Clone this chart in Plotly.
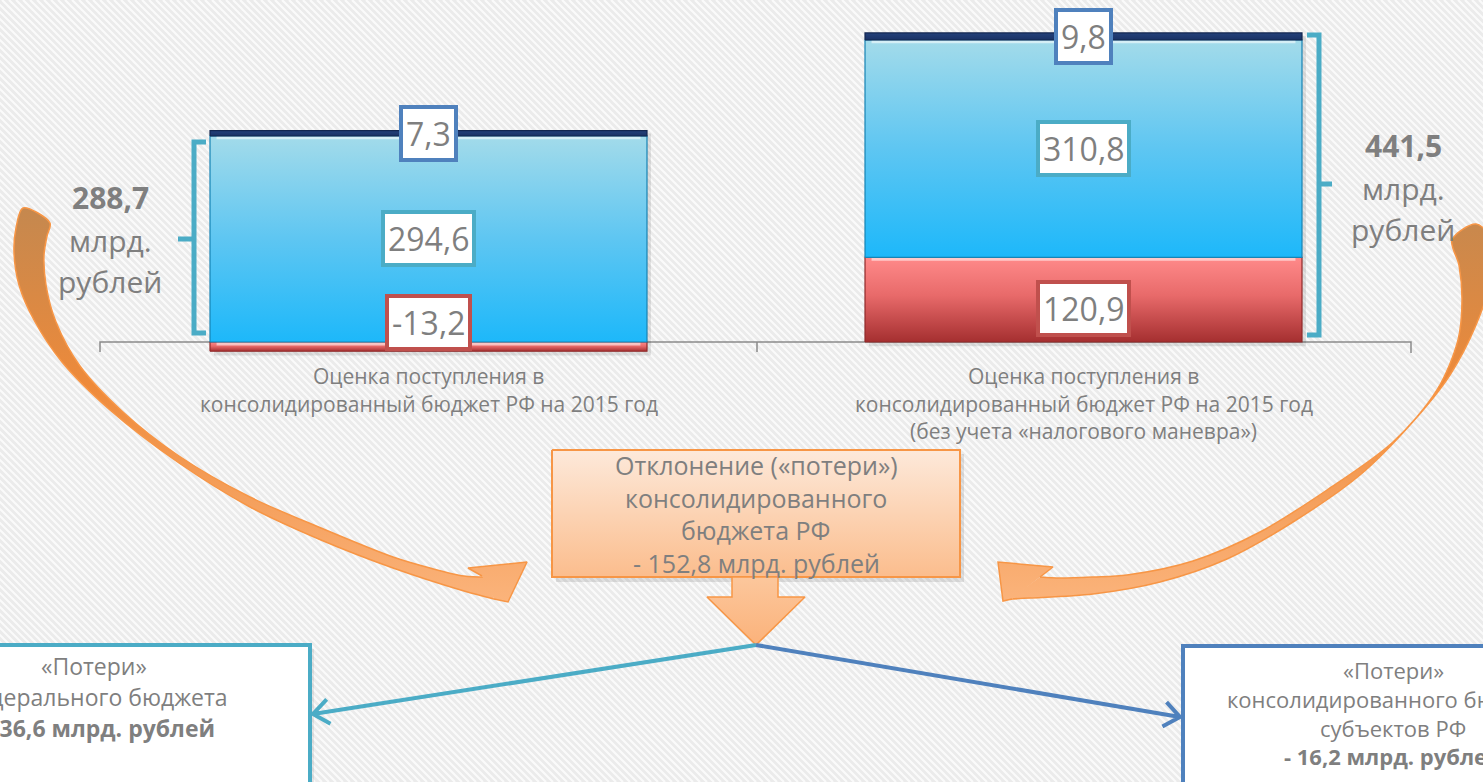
import math
import plotly.graph_objects as go

# ---------------- data ----------------
CATEGORY_LINES = [
    ["Оценка поступления в", "консолидированный бюджет РФ на 2015 год"],
    ["Оценка поступления в", "консолидированный бюджет РФ на 2015 год",
     "(без учета «налогового маневра»)"],
]
SERIES_RED = [-13.2, 120.9]
SERIES_BLUE = [294.6, 310.8]
SERIES_NAVY = [7.3, 9.8]
LOSS_TOTAL_LINES = ["Отклонение («потери»)", "консолидированного", "бюджета РФ"]
LOSS_FEDERAL_LINES = ["«Потери»", "федерального бюджета"]
LOSS_REGIONAL_LINES = ["«Потери»", "консолидированного бюджета", "субъектов РФ"]
LOSS_FEDERAL = 136.6
LOSS_REGIONAL = 16.2
UNIT = "млрд. рублей"

W, H = 1483, 782
ZERO_PX = 342.0
PX_PER_UNIT = 0.7
CAT_PX = [428.5, 1083.5]
BAR_PX = 437.0

GRAY = "#7f7f7f"
FONT = "Open Sans"


def fmt(v):
    return f"{v:.1f}".replace(".", ",")


step = CAT_PX[1] - CAT_PX[0]
xr = [(0 - CAT_PX[0]) / step, (W - CAT_PX[0]) / step]
yr = [(ZERO_PX - H) / PX_PER_UNIT, ZERO_PX / PX_PER_UNIT]
BW = BAR_PX / step

fig = go.Figure()
series = [
    ("red", SERIES_RED, "#e46c6c", [[0, "#a52f30"], [0.55, "#e86a6a"], [1, "#ff8a8a"]], "#8f2a2a"),
    ("blue", SERIES_BLUE, "#5cc8f2", [[0, "#1db8fa"], [0.5, "#5ec6f2"], [1, "#a3dbea"]], "#1784b5"),
    ("navy", SERIES_NAVY, "#1f3a6e", [[0, "#1a3266"], [1, "#24417a"]], "#132650"),
]
xs = list(range(len(CATEGORY_LINES)))
for name, vals, col, _, edge in series:
    fig.add_trace(go.Bar(x=xs, y=vals, width=BW, name=name, marker=dict(color=col, line=dict(width=0)),
                         hoverinfo="skip", xaxis="x", yaxis="y", showlegend=False))

# segment geometry from the data (relative stacking)
segs = []
for i in xs:
    pos, neg = 0.0, 0.0
    for name, vals, col, cs, edge in series:
        v = vals[i]
        if v >= 0:
            b = pos
            pos += v
        else:
            b = neg
            neg += v
        segs.append((i, name, min(b, b + v), max(b, b + v), v, cs, edge))

# shadows behind bars
for i in xs:
    lo = min(s[2] for s in segs if s[0] == i)
    hi = max(s[3] for s in segs if s[0] == i)
    fig.add_shape(type="rect", xref="x", yref="y", x0=i - BW / 2 + 0.006, x1=i + BW / 2 + 0.006,
                  y0=lo - 6, y1=hi - 4, fillcolor="rgba(0,0,0,0.10)", line=dict(width=0), layer="below")

# gradient overlay on bar segments
for i, name, y0, y1, v, cs, edge in segs:
    xa, xb = i - BW / 2, i + BW / 2
    fig.add_trace(go.Scatter(x=[xa, xb, xb, xa, xa], y=[y0, y0, y1, y1, y0], mode="lines", fill="toself",
                             fillgradient=dict(type="vertical", colorscale=cs, start=y0, stop=y1),
                             line=dict(color=edge, width=1.2), hoverinfo="skip", showlegend=False,
                             xaxis="x", yaxis="y"))
    if name != "navy":
        hl = 4 / PX_PER_UNIT
        fig.add_trace(go.Scatter(x=[xa + 0.01, xb - 0.01], y=[y1 - hl / 2, y1 - hl / 2], mode="lines",
                                 line=dict(color="rgba(255,255,255,0.55)", width=3), hoverinfo="skip",
                                 showlegend=False, xaxis="x", yaxis="y"))


# ------------- helpers for pixel-positioned decoration -------------
def px(x):
    return x / W


def py(y):
    return 1 - y / H


def ppath(pts, close=False):
    s = "M " + " L ".join(f"{px(a):.5f},{py(b):.5f}" for a, b in pts)
    return s + (" Z" if close else "")


# background stripes
stripes = []
x = -H
while x < W:
    stripes.append(f"M {px(x):.5f},1 L {px(x + H):.5f},0")
    x += 7
fig.add_shape(type="path", xref="paper", yref="paper", path=" ".join(stripes),
              line=dict(color="rgba(255,255,255,0.75)", width=2.2), layer="below")

# base line with ticks
fig.add_shape(type="path", xref="paper", yref="paper", layer="below",
              path=ppath([(100, 352), (100, 342), (1411, 342), (1411, 353)]) + " " + ppath([(757, 342), (757, 352)]),
              line=dict(color="#8a8a8a", width=1.5))

# brackets
teal = "#4bacc6"
fig.add_shape(type="path", xref="paper", yref="paper",
              path=ppath([(206, 142), (194, 142), (194, 333), (206, 333)]) + " " + ppath([(194, 239), (178, 239)]),
              line=dict(color=teal, width=5))
fig.add_shape(type="path", xref="paper", yref="paper",
              path=ppath([(1307, 35), (1319, 35), (1319, 335), (1307, 335)]) + " " + ppath([(1319, 184), (1332, 184)]),
              line=dict(color=teal, width=5))

# bottom boxes (with soft shadow)
fig.add_shape(type="rect", xref="paper", yref="paper", x0=px(-20), x1=px(314), y0=py(649), y1=py(800),
              fillcolor="rgba(0,0,0,0.08)", line=dict(width=0))
fig.add_shape(type="rect", xref="paper", yref="paper", x0=px(-20), x1=px(310), y0=py(645), y1=py(800),
              fillcolor="white", line=dict(color=teal, width=4))
fig.add_shape(type="rect", xref="paper", yref="paper", x0=px(1187), x1=px(1510), y0=py(650), y1=py(800),
              fillcolor="rgba(0,0,0,0.08)", line=dict(width=0))
fig.add_shape(type="rect", xref="paper", yref="paper", x0=px(1183), x1=px(1510), y0=py(646), y1=py(800),
              fillcolor="white", line=dict(color="#4f81bd", width=4))


def chevron_path(p_from, p_to, arm=20, ang=38):
    dx, dy = p_to[0] - p_from[0], p_to[1] - p_from[1]
    L = math.hypot(dx, dy)
    ux, uy = dx / L, dy / L
    pts = []
    for s in (1, -1):
        a = math.radians(ang) * s
        rx = -(ux * math.cos(a) - uy * math.sin(a))
        ry = -(ux * math.sin(a) + uy * math.cos(a))
        pts.append((p_to[0] + rx * arm, p_to[1] + ry * arm))
    return ppath([p_from, p_to]) + " " + ppath([pts[0], p_to, pts[1]])


tip = (756, 645)
fig.add_shape(type="path", xref="paper", yref="paper", path=chevron_path(tip, (313, 714)),
              line=dict(color=teal, width=4))
fig.add_shape(type="path", xref="paper", yref="paper", path=chevron_path(tip, (1180, 717)),
              line=dict(color="#4f81bd", width=4))


# ---- pixel overlay axes for gradient decorations ----
def poly(pts, cs, line_col, lw=1.5, close=True, spline=False, span=None):
    xs_ = [p[0] for p in pts] + ([pts[0][0]] if close else [])
    ys_ = [p[1] for p in pts] + ([pts[0][1]] if close else [])
    top, bot = span if span else (min(ys_), max(ys_))
    fig.add_trace(go.Scatter(x=xs_, y=ys_, mode="lines", fill="toself",
                             fillgradient=dict(type="vertical", colorscale=cs, start=top, stop=bot),
                             line=dict(color=line_col, width=lw, shape="spline" if spline else "linear",
                                       smoothing=0.9),
                             hoverinfo="skip", showlegend=False, xaxis="x2", yaxis="y2"))


orange_cs = [[0, "#c4884f"], [0.45, "#ee8a3a"], [1, "#fbb47c"]]
ARROW_SPAN = (205, 605)
left_band = [
    (486, 577), (464, 576), (430, 568), (393, 557), (321, 528), (250, 497), (179, 456), (123, 412),
    (80, 366), (56, 322), (46, 285), (44, 255), (47, 236), (50, 223),
    (23, 208), (16, 228), (14, 252), (19, 285), (34, 320), (62, 362), (110, 410), (179, 463),
    (250, 507), (321, 540), (393, 568), (464, 591), (494, 599),
]
left_head = [(482, 576), (468, 568), (527, 562), (508, 602), (494, 599)]
right_band = [
    (1040, 577), (1060, 578), (1093, 577), (1127, 575), (1193, 561), (1260, 532), (1327, 490),
    (1393, 442), (1437, 390), (1458, 340), (1462, 300), (1459, 265), (1452, 240),
    (1476, 224), (1492, 240), (1490, 282), (1476, 325), (1450, 375), (1410, 425), (1360, 475),
    (1293, 522), (1227, 559), (1160, 582), (1093, 594), (1030, 598), (1010, 599),
]
right_head = [(1040, 577), (1053, 567), (998, 562), (1003, 601), (1012, 599)]
poly(left_band, orange_cs, "#f79646", 1.5, close=False, spline=True, span=ARROW_SPAN)
poly(left_head, orange_cs, "#f79646", 1.5, close=False, span=ARROW_SPAN)
poly(right_band, orange_cs, "#f79646", 1.5, close=False, spline=True, span=ARROW_SPAN)
poly(right_head, orange_cs, "#f79646", 1.5, close=False, span=ARROW_SPAN)

# central box (shadow) and down arrow
fig.add_shape(type="rect", xref="paper", yref="paper", x0=px(556), x1=px(964), y0=py(454), y1=py(582),
              fillcolor="rgba(0,0,0,0.10)", line=dict(width=0), layer="below")
poly([(552, 450), (960, 450), (960, 577), (552, 577)], [[0, "#fde9da"], [1, "#fbbd8d"]], "#f79646", 2)
poly([(732, 577), (778, 577), (778, 597), (805, 597), (756, 645), (707, 597), (732, 597)],
     [[0, "#fcc79c"], [1, "#fbb27a"]], "#f79646", 1.5)

# ---------------- annotations ----------------
ann = []
label_style = dict(red="#c0504d", blue="#4bacc6", navy="#4f81bd")
red_shift = {0: 24, 1: -9}
for i, name, y0, y1, v, cs, edge in segs:
    ann.append(dict(x=i, y=(y0 + y1) / 2, xref="x", yref="y", text=fmt(v), showarrow=False,
                    font=dict(family=FONT, size=32, color=GRAY), bgcolor="white",
                    bordercolor=label_style[name], borderwidth=4, borderpad=3,
                    yshift=red_shift[i] if name == "red" else 0))

# category labels
for i, lines in enumerate(CATEGORY_LINES):
    for k, t in enumerate(lines):
        ann.append(dict(x=i, y=376 + 27.5 * k, xref="x", yref="y2", text=t, showarrow=False,
                        font=dict(family=FONT, size=21, color=GRAY)))

totals = [sum(s[4] for s in segs if s[0] == i) for i in xs]


def txt(x, y, t, size, bold=False, anchor="center"):
    ann.append(dict(x=x, y=y, xref="x2", yref="y2", text=f"<b>{t}</b>" if bold else t, showarrow=False,
                    xanchor=anchor, font=dict(family=FONT, size=size, color=GRAY)))


unit1, unit2 = UNIT.split(" ")
txt(110, 197, fmt(totals[0]), 30, True)
txt(110, 240, unit1, 30)
txt(110, 281, unit2, 30)
txt(1403, 145, fmt(totals[1]), 30, True)
txt(1403, 188, unit1, 30)
txt(1403, 229, unit2, 30)

for k, t in enumerate(LOSS_TOTAL_LINES + [f"- {fmt(totals[1] - totals[0])} {UNIT}"]):
    txt(756, 465 + 32.5 * k, t, 25)

for k, t in enumerate(LOSS_FEDERAL_LINES):
    txt(94, 666 + 31 * k, t, 23)
txt(94, 728, f"- {fmt(LOSS_FEDERAL)} {UNIT}", 23, True)
for k, t in enumerate(LOSS_REGIONAL_LINES):
    txt(1393, 670 + 29 * k, t, 22)
txt(1393, 756, f"- {fmt(LOSS_REGIONAL)} {UNIT}", 22, True)

fig.update_layout(
    width=W, height=H, margin=dict(l=0, r=0, t=0, b=0),
    paper_bgcolor="#ebebeb", plot_bgcolor="rgba(0,0,0,0)",
    barmode="relative", bargap=0, showlegend=False,
    xaxis=dict(range=xr, visible=False, fixedrange=True),
    yaxis=dict(range=yr, visible=False, fixedrange=True),
    xaxis2=dict(range=[0, W], visible=False, overlaying="x", fixedrange=True),
    yaxis2=dict(range=[H, 0], visible=False, overlaying="y", fixedrange=True),
    annotations=ann,
)
fig.write_html("out.html", config={"displayModeBar": False})
